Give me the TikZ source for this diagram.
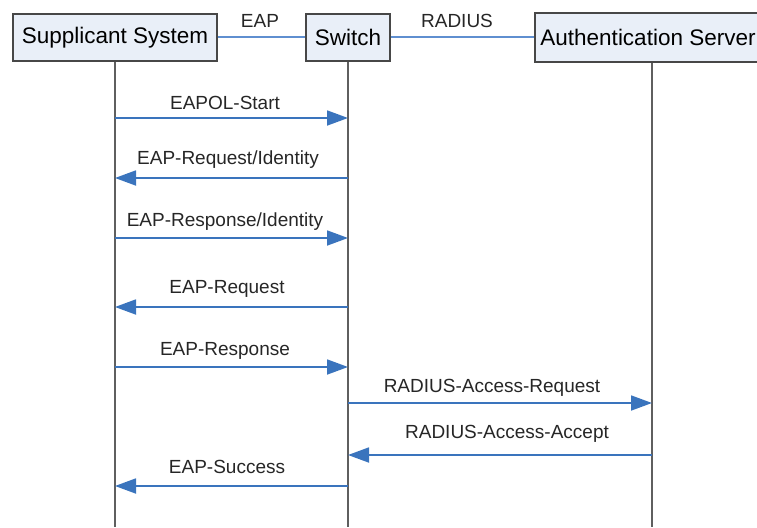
\documentclass[tikz,border=0pt]{standalone}
\usepackage{fontspec}
\setmainfont{Liberation Sans}
\usetikzlibrary{arrows.meta}

\definecolor{boxfill}{HTML}{E9EFF8}
\definecolor{boxline}{HTML}{474747}
\definecolor{msgblue}{HTML}{3A74BD}
\definecolor{linkblue}{HTML}{5F8FD0}
\definecolor{lifegray}{HTML}{5F5F5F}

\begin{document}
\begin{tikzpicture}[x=1pt,y=-1pt,
    box/.style={draw=boxline, line width=1.6pt, fill=boxfill, inner sep=0pt,
        font=\fontsize{22.5}{25}\selectfont},
    lifeline/.style={draw=lifegray, line width=1.6pt},
    link/.style={draw=linkblue, line width=2pt},
    msg/.style={draw=msgblue, line width=1.8pt,
        -{Triangle[length=21pt,width=15pt]}},
    lbl/.style={font=\fontsize{19}{21}\selectfont, text=black!85}]
    \clip (0,0) rectangle (757,527);
    \coordinate (bot) at (0,527);

    % actors
    \node[box, minimum width=204pt, minimum height=47pt] (sup) at (115,37.5) {Supplicant System};
    \node[box, minimum width=84pt, minimum height=47pt] (sw) at (348,37.5) {Switch};
    \node[box, minimum width=234pt, minimum height=49pt] (auth) at (652,37.5) {\hspace*{-8pt}Authentication Server};

    % protocol links
    \draw[link] (sup.east) -- (sw.west);
    \node[lbl] (eap) at (260,21) {EAP};
    \draw[link] (sw.east) -- (auth.west);
    \node[lbl] (radius) at (457,21) {RADIUS};

    % lifelines
    \draw[lifeline] (sup.south) -- (sup.south |- bot);
    \draw[lifeline] (sw.south) -- (sw.south |- bot);
    \draw[lifeline] (auth.south) -- (auth.south |- bot);

    % messages
    \draw[msg] (sup.south |- 0,118) -- (sw.south |- 0,118);
    \node[lbl] (m1) at (225,103) {EAPOL-Start};

    \draw[msg] (sw.south |- 0,178) -- (sup.south |- 0,178);
    \node[lbl] (m2) at (228,160) {EAP-Request/Identity};

    \draw[msg] (sup.south |- 0,238) -- (sw.south |- 0,238);
    \node[lbl] (m3) at (225,222) {EAP-Response/Identity};

    \draw[msg] (sw.south |- 0,307) -- (sup.south |- 0,307);
    \node[lbl] (m4) at (227,289) {EAP-Request};

    \draw[msg] (sup.south |- 0,367) -- (sw.south |- 0,367);
    \node[lbl] (m5) at (225,351) {EAP-Response};

    \draw[msg] (sw.south |- 0,403) -- (auth.south |- 0,403);
    \node[lbl] (m6) at (492,388) {RADIUS-Access-Request};

    \draw[msg] (auth.south |- 0,455) -- (sw.south |- 0,455);
    \node[lbl] (m7) at (507,434) {RADIUS-Access-Accept};

    \draw[msg] (sw.south |- 0,486) -- (sup.south |- 0,486);
    \node[lbl] (m8) at (227,467) {EAP-Success};
\end{tikzpicture}
\end{document}
